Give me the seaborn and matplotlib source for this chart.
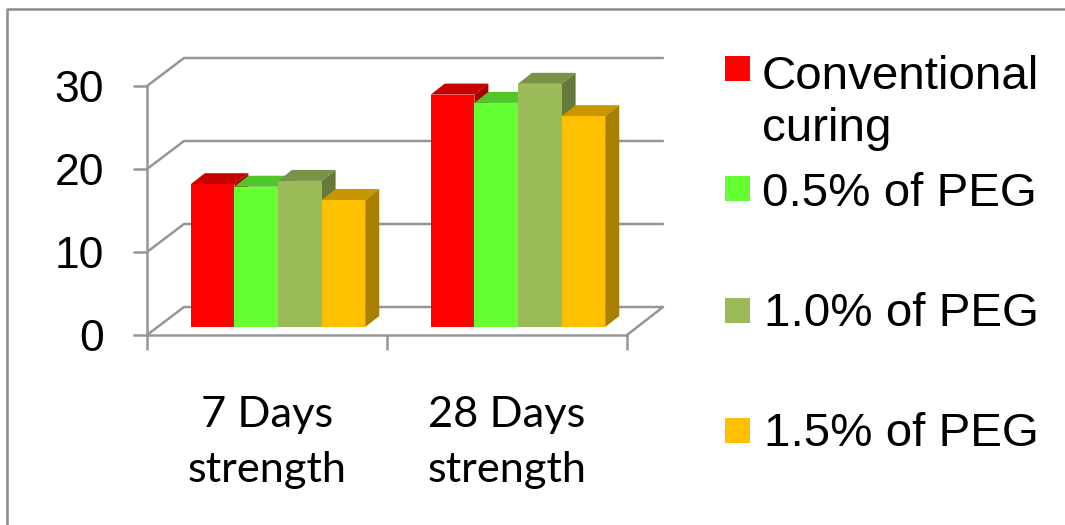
#!/usr/bin/env python3
import numpy as np
import pandas as pd
import matplotlib
matplotlib.use('Agg')
import matplotlib.pyplot as plt
import seaborn as sns
from matplotlib.colors import to_rgb
from matplotlib.lines import Line2D
from matplotlib.patches import Polygon, Rectangle
from matplotlib.transforms import Affine2D, IdentityTransform

W, H = 1065, 525

categories = ['7 Days\nstrength', '28 Days\nstrength']
series = ['Conventional\ncuring', '0.5% of PEG', '1.0% of PEG', '1.5% of PEG']
conventional = [17.2, 28.0]
peg_05 = [16.9, 27.0]
peg_10 = [17.6, 29.3]
peg_15 = [15.3, 25.4]
colors = ['#FF0000', '#66FF33', '#9BBB59', '#FFC000']
yticks = [0, 10, 20, 30]

GRAY = '#969696'
LINE_W = 1.8
BAR_SHIFT = (11, 8)    # bars stand part way into the floor
BAR_DEPTH = (14, 11)
WALL_DEPTH = (37, 28)

df = pd.DataFrame({
    'group': np.repeat(categories, len(series)),
    'series': series * len(categories),
    'value': [v[i] for i in range(2) for v in (conventional, peg_05, peg_10, peg_15)],
})

sns.set_style('white')
plt.rcParams['font.family'] = ['Liberation Sans', 'DejaVu Sans']
plt.rcParams['text.color'] = 'black'
plt.rcParams['xtick.labelcolor'] = 'black'
plt.rcParams['ytick.labelcolor'] = 'black'

fig = plt.figure(figsize=(W / 100, H / 100), dpi=100)
ax = fig.add_axes([147 / W, 1 - 335 / H, 480 / W, 249 / H])

sns.barplot(data=df, x='group', y='value', hue='series', order=categories, hue_order=series,
            palette=colors, width=0.727, gap=0, saturation=1, legend=False, ax=ax)
ax.set_xlim(-0.5, 1.5)
ax.set_ylim(0, 30)
ax.set_xlabel('')
ax.set_ylabel('')

# axes
sns.despine(ax=ax)
for side in ['left', 'bottom']:
    ax.spines[side].set_color(GRAY)
    ax.spines[side].set_linewidth(LINE_W)
ax.set_yticks(yticks)
ax.set_xticks([-0.5, 0.5, 1.5])
ax.set_xticklabels([])
ax.set_xticks([0, 1], labels=categories, minor=True)
ax.tick_params(axis='y', length=10, width=LINE_W, color=GRAY, labelsize=32, labelcolor='black', pad=21, left=True)
ax.tick_params(axis='x', which='major', length=10.5, width=LINE_W, color=GRAY, bottom=True)
ax.tick_params(axis='x', which='minor', length=0, pad=44, labelsize=31.2, labelcolor='black')
for lab in ax.get_xticklabels(minor=True):
    lab.set_family(['Lato', 'DejaVu Sans'])
    lab.set_linespacing(1.55)

fig.canvas.draw()
identity = IdentityTransform()


def to_display(x, y):
    return ax.transData.transform((x, y))


def darker(color, factor):
    return tuple(c * factor for c in to_rgb(color))


# side wall and back wall lines, one set per y tick
x0, x1 = ax.get_xlim()
for tick in yticks:
    fx, fy = to_display(x0, tick)
    bx, by = fx + WALL_DEPTH[0], fy + WALL_DEPTH[1]
    ex = to_display(x1, tick)[0] + WALL_DEPTH[0] - 1
    ax.add_line(Line2D([fx, bx, ex], [fy, by, by], color=GRAY, lw=LINE_W, transform=identity,
                       clip_on=False, zorder=1))
rx, ry = to_display(x1, 0)
ax.add_line(Line2D([rx, rx + WALL_DEPTH[0] - 1], [ry, ry + WALL_DEPTH[1]], color=GRAY, lw=LINE_W,
                   transform=identity, clip_on=False, zorder=1))

# 3D look: the bars are shifted on to the floor, then top and side faces are added
bars = sorted([p for p in ax.patches if p.get_height() > 0], key=lambda p: p.get_x())
dx, dy = BAR_DEPTH
for z, bar in enumerate(bars):
    base = 3 + z * 3
    color = bar.get_facecolor()
    bar.set_transform(ax.transData + Affine2D().translate(*BAR_SHIFT))
    bar.set_clip_on(False)
    bar.set_linewidth(0)
    bar.set_zorder(base + 2)
    left, bottom = to_display(bar.get_x(), 0)
    right, top = to_display(bar.get_x() + bar.get_width(), bar.get_height())
    left, right = left + BAR_SHIFT[0], right + BAR_SHIFT[0]
    bottom, top = bottom + BAR_SHIFT[1], top + BAR_SHIFT[1]
    ax.add_patch(Polygon([(left, top), (left + dx, top + dy), (right + dx, top + dy), (right, top)],
                         fc=darker(color, 0.78), ec='none', transform=identity, clip_on=False, zorder=base))
    ax.add_patch(Polygon([(right, top), (right + dx, top + dy), (right + dx, bottom + dy), (right, bottom)],
                         fc=darker(color, 0.66), ec='none', transform=identity, clip_on=False, zorder=base + 1))

# legend, spaced as in the picture
key_y = [56, 176, 298, 418]
label_x = [762, 762, 764, 764]
label_y = [141, 206, 326, 446]
for name, color, ky, lx, ly in zip(series, colors, key_y, label_x, label_y):
    fig.add_artist(Rectangle((725 / W, 1 - (ky + 25) / H), 25 / W, 25 / H, fc=color, ec='none',
                             transform=fig.transFigure))
    fig.text(lx / W, 1 - ly / H, name, fontsize=34.2, color='black', ha='left', va='baseline', linespacing=1.24)

# outer chart border, only left and top fall inside the picture
fig.add_artist(Line2D([6.5 / W, 6.5 / W, 1], [0, 1 - 9 / H, 1 - 9 / H], color='#8C8C8C', lw=1.8,
                      transform=fig.transFigure))

fig.savefig('out.png', dpi=100)
